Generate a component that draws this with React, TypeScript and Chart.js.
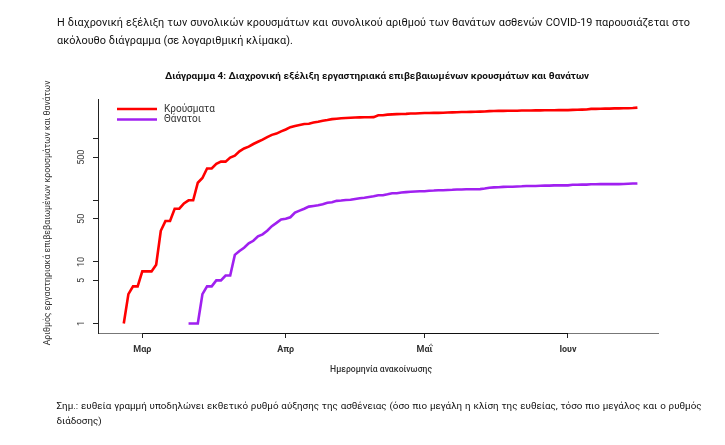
import React, { useEffect, useRef } from 'react';
import { Chart, registerables } from 'chart.js';

Chart.register(...registerables);

// Day 0 = 26 Feb 2020 (announcement date)
const cases = [
  1, 3, 4, 4, 7, 7, 7, 9, 32, 46, 46, 73, 73, 89, 100, 100, 193, 230, 328, 328, 390, 425, 425, 495,
  530, 624, 695, 743, 821, 892, 966, 1061, 1156, 1212, 1314,
  1415, 1544, 1613, 1673, 1735, 1755, 1832, 1884, 1955, 2011, 2081, 2114, 2145, 2170, 2192, 2207,
  2224, 2235, 2235, 2245, 2401, 2408, 2463, 2490, 2506, 2517, 2534, 2566, 2576, 2591,
  2612, 2620, 2626, 2632, 2642, 2663, 2678, 2691, 2710, 2716, 2726, 2744, 2760, 2770, 2810, 2819,
  2834, 2836, 2840, 2850, 2853, 2873, 2876, 2878, 2882, 2892, 2903, 2906, 2909, 2915, 2917,
  2918, 2937, 2952, 2967, 2980, 3049, 3058, 3060, 3083, 3088, 3108, 3112, 3121, 3134, 3148, 3203,
];

const deathStartDay = 14;
const deaths = [
  1, 1, 1, 3, 4, 4, 5, 5, 6, 6,
  13, 15, 17, 20, 22, 26, 28, 32, 38, 43, 49,
  50, 53, 63, 68, 73, 79, 81, 83, 86, 91, 93, 98, 99, 101, 102, 105, 108, 110, 113, 116,
  121, 121, 125, 130, 130, 134, 136, 138, 139, 140,
  140, 143, 144, 146, 146, 147, 148, 150, 150, 151, 151, 151, 152, 155, 160, 162,
  163, 165, 166, 166, 168, 169, 171, 171, 171, 172, 173, 173, 175, 175, 175,
  175, 179, 179, 180, 180, 182, 182, 183, 183, 183, 183, 183, 184, 186, 187, 188,
];

const seriesNames = ['Κρούσματα', 'Θάνατοι'];
const seriesColors = ['#FF0000', '#A020F0'];
const xTickDays = [4, 35, 65, 96];
const xTickLabels = ['Μαρ', 'Απρ', 'Μαΐ', 'Ιουν'];
const yTickValues = [1, 5, 10, 50, 100, 500, 1000];
const yTickLabels = ['1', '5', '10', '50', '', '500', ''];

const chartTitle = 'Διάγραμμα 4: Διαχρονική εξέλιξη εργαστηριακά επιβεβαιωμένων κρουσμάτων και θανάτων';
const xTitle = 'Ημερομηνία ανακοίνωσης';
const yTitle = 'Αριθμός εργαστηριακά επιβεβαιωμένων κρουσμάτων και θανάτων';
const introLines = [
  'Η διαχρονική εξέλιξη των συνολικών κρουσμάτων και συνολικού αριθμού των θανάτων ασθενών COVID-19 παρουσιάζεται στο',
  'ακόλουθο διάγραμμα (σε λογαριθμική κλίμακα).',
];
const noteLines = [
  'Σημ.: ευθεία γραμμή υποδηλώνει εκθετικό ρυθμό αύξησης της ασθένειας (όσο πιο μεγάλη η κλίση της ευθείας, τόσο πιο μεγάλος και ο ρυθμός',
  'διάδοσης)',
];

const FONT = 'Roboto, "Noto Sans", sans-serif';

function fitFont(ctx: CanvasRenderingContext2D, text: string, weight: string, target: number, base: number) {
  ctx.font = `${weight} ${base}px ${FONT}`;
  const w = ctx.measureText(text).width;
  const size = Math.min(base * 1.3, Math.max(base * 0.7, (base * target) / w));
  ctx.font = `${weight} ${size}px ${FONT}`;
}

const overlay = {
  id: 'overlay',
  afterDraw(chart: any) {
    const { ctx, chartArea } = chart;
    const x = chart.scales.x;
    const y = chart.scales.y;
    ctx.save();

    // darker axis line between first and last tick (R axis over box)
    ctx.strokeStyle = '#111';
    ctx.lineWidth = 1;
    ctx.beginPath();
    const by = Math.round(chartArea.bottom) + 0.5;
    ctx.moveTo(x.getPixelForValue(xTickDays[0]), by);
    ctx.lineTo(x.getPixelForValue(xTickDays[xTickDays.length - 1]), by);
    ctx.stroke();

    ctx.fillStyle = '#333';
    // y tick labels (rotated)
    ctx.font = `9px ${FONT}`;
    ctx.textAlign = 'center';
    ctx.textBaseline = 'middle';
    yTickValues.forEach((v, i) => {
      if (!yTickLabels[i]) return;
      ctx.save();
      ctx.translate(82, y.getPixelForValue(v));
      ctx.rotate(-Math.PI / 2);
      ctx.fillText(yTickLabels[i], 0, 0);
      ctx.restore();
    });

    // x tick labels
    ctx.font = `bold 9px ${FONT}`;
    xTickDays.forEach((d, i) => {
      ctx.fillText(xTickLabels[i], x.getPixelForValue(d), 350);
    });

    // x title
    ctx.fillStyle = '#333';
    fitFont(ctx, xTitle, '500', 102, 9);
    ctx.fillText(xTitle, 381, 370);

    // y title
    ctx.save();
    ctx.translate(48, 213);
    ctx.rotate(-Math.PI / 2);
    fitFont(ctx, yTitle, 'normal', 265, 9);
    ctx.fillText(yTitle, 0, 0);
    ctx.restore();

    // chart title
    ctx.fillStyle = '#111';
    fitFont(ctx, chartTitle, 'bold', 425, 10);
    ctx.fillText(chartTitle, 377, 77);

    // legend
    const legendY = [109, 119.5];
    seriesNames.forEach((name, i) => {
      ctx.strokeStyle = seriesColors[i];
      ctx.lineWidth = 2.6;
      ctx.beginPath();
      ctx.moveTo(117, legendY[i]);
      ctx.lineTo(157, legendY[i]);
      ctx.stroke();
      ctx.fillStyle = '#333';
      ctx.font = `10px ${FONT}`;
      ctx.textAlign = 'left';
      ctx.fillText(name, 164, legendY[i]);
    });

    ctx.restore();
  },
};

export default function App() {
  const ref = useRef<HTMLCanvasElement>(null);

  useEffect(() => {
    const canvas = ref.current;
    if (!canvas) return;
    const tickGrid = {
      display: true,
      drawOnChartArea: false,
      drawTicks: true,
      tickLength: 5,
      color: '#222',
      lineWidth: 1,
    };
    const chart = new Chart(canvas, {
      type: 'line',
      data: {
        datasets: [
          {
            label: seriesNames[0],
            data: cases.map((v, i) => ({ x: i, y: v })),
            borderColor: seriesColors[0],
            backgroundColor: seriesColors[0],
            borderWidth: 2.6,
            pointRadius: 0,
            tension: 0,
            fill: false,
          },
          {
            label: seriesNames[1],
            data: deaths.map((v, i) => ({ x: i + deathStartDay, y: v })),
            borderColor: seriesColors[1],
            backgroundColor: seriesColors[1],
            borderWidth: 2.6,
            pointRadius: 0,
            tension: 0,
            fill: false,
          },
        ],
      },
      options: {
        animation: false,
        responsive: false,
        events: [],
        layout: { padding: { left: 0, top: 99, right: 67, bottom: 0 } },
        plugins: {
          legend: { display: false },
          tooltip: { enabled: false },
          title: { display: false },
        },
        scales: {
          x: {
            type: 'linear',
            min: -5.57,
            max: 115.45,
            afterBuildTicks: (s: any) => {
              s.ticks = xTickDays.map((v) => ({ value: v }));
            },
            afterFit: (s: any) => {
              s.height = 112;
            },
            ticks: { display: false },
            grid: tickGrid,
            border: { display: true, color: '#777', width: 1 },
          },
          y: {
            type: 'logarithmic',
            min: 0.729,
            max: 4418,
            afterBuildTicks: (s: any) => {
              s.ticks = yTickValues.map((v) => ({ value: v }));
            },
            afterFit: (s: any) => {
              s.width = 98;
            },
            ticks: { display: false },
            grid: tickGrid,
            border: { display: true, color: '#222', width: 1 },
          },
        },
      } as any,
      plugins: [overlay],
    });
    return () => chart.destroy();
  }, []);

  const lineStyle = (extra: React.CSSProperties): React.CSSProperties => ({
    position: 'absolute',
    whiteSpace: 'nowrap',
    color: '#111',
    ...extra,
  });

  return (
    <div style={{ position: 'absolute', left: 0, top: 0, width: 725, height: 445, background: '#fff', overflow: 'hidden' }}>
      <canvas ref={ref} width={725} height={445} style={{ position: 'absolute', left: 0, top: 0, width: 725, height: 445 }} />
      <div style={lineStyle({ left: 57, top: 14, width: 633, fontFamily: FONT, fontSize: 10.9, lineHeight: '17px', textAlign: 'justify', textAlignLast: 'justify' } as any)}>
        {introLines[0]}
      </div>
      <div style={lineStyle({ left: 57, top: 32, fontFamily: FONT, fontSize: 10.9, lineHeight: '17px' })}>
        {introLines[1]}
      </div>
      <div style={lineStyle({ left: 56.5, top: 398, width: 645, fontFamily: FONT, fontSize: 9.8, lineHeight: '15px', textAlign: 'justify', textAlignLast: 'justify' } as any)}>
        {noteLines[0]}
      </div>
      <div style={lineStyle({ left: 56.5, top: 413, fontFamily: FONT, fontSize: 9.8, lineHeight: '15px' })}>
        {noteLines[1]}
      </div>
    </div>
  );
}
